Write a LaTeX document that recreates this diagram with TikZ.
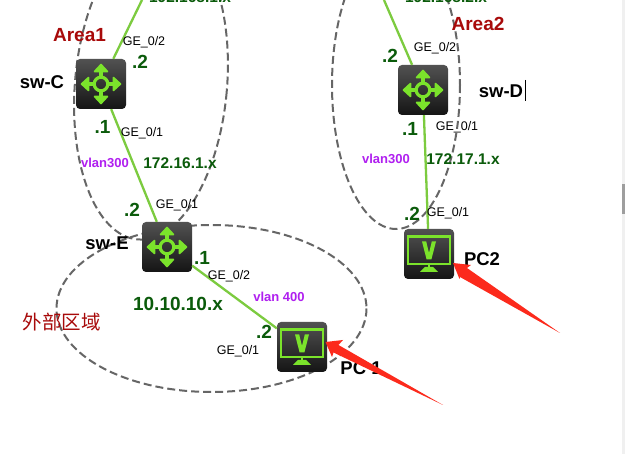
\documentclass[tikz,border=0pt]{standalone}
\usepackage{fontspec}
\setmainfont{Liberation Sans}
\newfontfamily\cjk{Noto Sans CJK SC}
\definecolor{linkgreen}{HTML}{7CCB3F}
\definecolor{icongreen}{HTML}{7BE32B}
\definecolor{txtgreen}{HTML}{0B5B0B}
\definecolor{areared}{HTML}{A80A0A}
\definecolor{vlanpurple}{HTML}{B01FF0}
\definecolor{zonegray}{HTML}{666666}
\definecolor{arrowred}{HTML}{FC2A1C}
\tikzset{
  x=1pt,y=-1pt,
  device/.style={rectangle,minimum size=50pt,inner sep=0pt,rounded corners=4pt,top color=black!68,bottom color=black!92,shading angle=0},
  zone/.style={draw=zonegray,line width=2pt,dash pattern=on 8pt off 4pt},
  link/.style={draw=linkgreen,line width=2.3pt},
  port/.style={font=\fontsize{12.5}{14}\selectfont,text=black,inner sep=0pt},
  ipaddr/.style={font=\fontsize{15.5}{18}\selectfont\bfseries,text=txtgreen,inner sep=0pt},
  bigaddr/.style={font=\fontsize{19}{20}\selectfont\bfseries,text=txtgreen,inner sep=0pt},
  hostid/.style={font=\fontsize{19}{20}\selectfont\bfseries,text=txtgreen,inner sep=0pt},
  vlanlbl/.style={font=\fontsize{13}{14}\selectfont\bfseries,text=vlanpurple,inner sep=0pt},
  devname/.style={font=\fontsize{18.5}{20}\selectfont\bfseries,text=black,inner sep=0pt},
  arealbl/.style={font=\fontsize{19}{20}\selectfont\bfseries,text=areared,inner sep=0pt},
  pointer/.style={fill=arrowred,draw=none},
  pics/routericon/.style={code={
    \draw[icongreen,line width=3.2pt] (0,0) circle (6.8);
    \foreach \a in {0,90,180,270}{
      \begin{scope}[rotate=\a]
        \draw[icongreen,line width=3.2pt] (8,0) -- (15,0);
        \fill[icongreen,draw=icongreen,line width=1.6pt,line join=round] (19.5,0) -- (12.5,-6.5) -- (12.5,6.5) -- cycle;
      \end{scope}}
  }},
  pics/pcicon/.style={code={
    \draw[icongreen,line width=2.8pt] (-21,-17.5) rectangle (21,10);
    \fill[icongreen] (-7,-12.5) -- (-2.8,-12.5) -- (0,-1) -- (2.8,-12.5) -- (7,-12.5) -- (2.4,5.5) -- (-2.4,5.5) -- cycle;
    \fill[icongreen] (-1,10) rectangle (1,14);
    \fill[icongreen] (-4,13) -- (4,13) -- (9,18) -- (-9,18) -- cycle;
  }},
}
\begin{document}
\begin{tikzpicture}
\useasboundingbox (0,0) rectangle (625,454);
\clip (0,0) rectangle (625,454);
\fill[white] (0,0) rectangle (625,454);
% zones
\draw[zone,rotate around={-5:(151,85)}] (151,85) ellipse [x radius=76,y radius=155];
\draw[zone] (396,85) ellipse [x radius=64,y radius=144];
\draw[zone] (211.5,308.5) ellipse [x radius=155,y radius=83.5];
% devices
\node[device] (swC) at (101,84) {};
\node[device] (swD) at (423,90) {};
\node[device] (swE) at (167,247) {};
\node[device] (pcA) at (302,347) {};
\node[device] (pcB) at (429,254) {};
\pic at (swC) {routericon};
\pic at (swD) {routericon};
\pic at (swE) {routericon};
\pic at (pcA) {pcicon};
\pic at (pcB) {pcicon};
% connectors
\coordinate (upC) at (142,0);
\coordinate (upD) at (384,0);
\draw[link] (swC) -- (upC);
\draw[link] (swC) -- (swE);
\draw[link] (swD) -- (upD);
\draw[link] (swD) -- (pcB);
\draw[link] (swE) -- (pcA);
% texts
\node[ipaddr,anchor=south] (tA) at (190,3) {192.168.1.x};
\node[ipaddr,anchor=south] (tB) at (446,3) {192.168.2.x};
\node[arealbl] (a1) at (79.5,35) {Area1};
\node[arealbl] (a2) at (478,24) {Area2};
\node[arealbl,font=\cjk\fontsize{19.5}{20}\selectfont] (a3) at (62,322) {外部区域};
\node[devname] (nC) at (42,82) {sw-C};
\node[devname] (nD) at (501,91) {sw-D};
\node[devname] (nE) at (107,243) {sw-E};
\node[devname] (nP1) at (361,368) {PC 1};
\node[devname] (nP2) at (482,259) {PC2};
\coordinate (curT) at (525.5,80);
\coordinate (curB) at (525.5,101);
\draw[black,line width=0.8pt] (curT) -- (curB);
\node[port] (p1) at (144,42) {GE\_0/2};
\node[port] (p2) at (142,133) {GE\_0/1};
\node[port] (p3) at (177,205) {GE\_0/1};
\node[port] (p4) at (435,48) {GE\_0/2};
\node[port] (p5) at (457,127) {GE\_0/1};
\node[port] (p6) at (448,213) {GE\_0/1};
\node[port] (p7) at (229,276) {GE\_0/2};
\node[port] (p8) at (238,351) {GE\_0/1};
\node[hostid] (h1) at (140,62) {.2};
\node[hostid] (h2) at (102.5,127) {.1};
\node[hostid] (h3) at (132,210) {.2};
\node[hostid] (h4) at (390,56) {.2};
\node[hostid] (h5) at (410,129) {.1};
\node[hostid] (h6) at (412,214) {.2};
\node[hostid] (h7) at (202,258) {.1};
\node[hostid] (h8) at (264,332) {.2};
\node[vlanlbl] (v1) at (105,163) {vlan300};
\node[vlanlbl] (v2) at (386,159) {vlan300};
\node[vlanlbl] (v3) at (279,297) {vlan 400};
\node[ipaddr] (i1) at (180,163) {172.16.1.x};
\node[ipaddr] (i2) at (463,159) {172.17.1.x};
\node[bigaddr] (i3) at (178,304) {10.10.10.x};
% red pointers
\fill[pointer] (325.5,342) -- (343,340) -- (338.5,345) -- (443,405) -- (333.5,352.5) -- (332,357) -- cycle;
\fill[pointer] (453,263) -- (471,265) -- (467,268) -- (560,333) -- (460,277) -- (459.5,279) -- cycle;
% scrollbar
\fill[black!6] (622,0) rectangle (625,454);
\fill[black!38] (622,184) rectangle (625,214);
\end{tikzpicture}
\end{document}
